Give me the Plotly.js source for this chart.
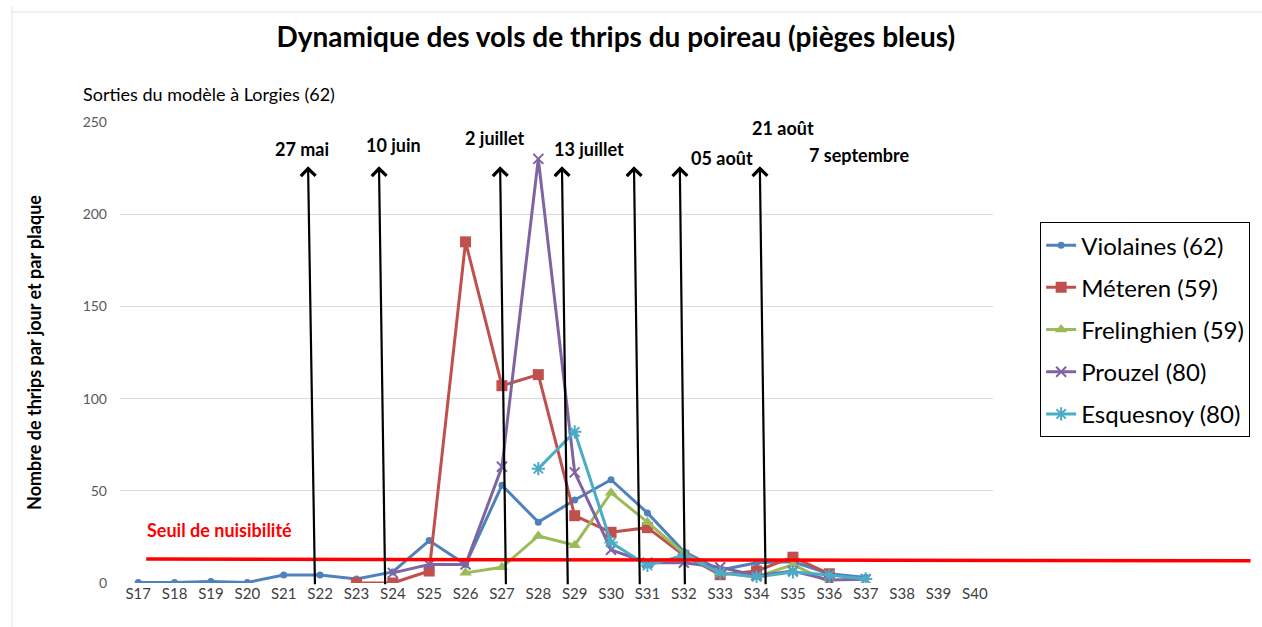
<!DOCTYPE html>
<html>
<head>
<meta charset="utf-8">
<script src="https://cdn.plot.ly/plotly-3.0.1.min.js"></script>
<style>html,body{margin:0;padding:0;background:#fff;}#chart{width:1262px;height:627px;}</style>
</head>
<body>
<div id="chart"></div>
<script>
// ---- data ----
const weeks = ["S17","S18","S19","S20","S21","S22","S23","S24","S25","S26","S27","S28","S29","S30","S31","S32","S33","S34","S35","S36","S37","S38","S39","S40"];
const violaines   = [0.3,0.3,0.8,0.3,4.3,4.3,2.2,6,23,10,53,33,45,56,38,17,7,11,11.5,5,3,null,null,null];
const meteren     = [null,null,null,null,null,null,0,0,6.5,185,107,113,36.5,27.5,30,15,4.5,6.5,14,5,null,null,null,null];
const frelinghien = [null,null,null,null,null,null,null,null,null,5.5,8.5,25.5,20.5,49,33,16,5.5,3.3,10,0.5,null,null,null,null];
const prouzel     = [null,null,null,null,null,null,null,5.5,10,10,63,230,60,18,11,11,8.5,4,6.5,1.6,2,null,null,null];
const esquesnoy   = [null,null,null,null,null,null,null,null,null,null,null,62,82,22,9.5,15,5.5,3.3,6,4.3,2.2,null,null,null];
const seriesNames = ["Violaines (62)","Méteren (59)","Frelinghien (59)","Prouzel (80)","Esquesnoy (80)"];
const threshold = 13;
const thresholdLabel = "Seuil de nuisibilité";
const dateLabels = ["27 mai","10 juin","2 juillet","13 juillet","27 juillet","05 août","21 août","7 septembre"];

// ---- styles / positions ----
const FONT = "Lato, 'Open Sans', sans-serif";
const colors = ["#4F81BD","#C0504D","#9BBB59","#8064A2","#4BACC6"];
const symbols = ["circle","square","triangle-up","x-thin-open","asterisk-open"];
const msizes = [7,11,11,10,11];
const allSeries = [violaines, meteren, frelinghien, prouzel, esquesnoy];

const traces = allSeries.map((vals, i) => ({
  type: "scatter", mode: "lines+markers", name: seriesNames[i],
  x: weeks, y: vals, connectgaps: false,
  legendgroup: "g" + i,
  line: {color: colors[i], width: 3},
  marker: {symbol: symbols[i], size: msizes[i], color: colors[i],
           line: {color: colors[i], width: (i >= 3 ? 2 : 0)}}
}));

// arrow geometry (category-index units for x, data units for y)
const arrowTopX = [4.67, 6.62, 9.95, 11.65, 13.63, 14.89, 17.09];
const arrowBotX = [4.86, 6.79, 10.11, 11.81, 13.79, 15.03, 17.25];
const labelX = [4.51, 7.01, 9.81, 12.38, 14.38, 16.05, 17.73, 19.82];
const labelY = [235.5, 237.3, 241.3, 235.5, 250.8, 230.3, 246.7, 232.2];

const annotations = [];
arrowTopX.forEach((xt, i) => {
  annotations.push({
    x: xt, y: 226, xref: "x", yref: "y",
    ax: arrowBotX[i], ay: -1.5, axref: "x", ayref: "y",
    showarrow: true, arrowhead: 4, arrowsize: 1.3, arrowwidth: 2.2, arrowcolor: "#000",
    text: ""
  });
});
dateLabels.forEach((t, i) => {
  annotations.push({
    x: labelX[i], y: labelY[i], xref: "x", yref: "y", showarrow: false,
    text: "<b>" + t + "</b>", font: {family: FONT, size: 18, color: "#000"}
  });
});
annotations.push({
  xref: "paper", yref: "y", x: 0.029, y: 28.5, xanchor: "left", showarrow: false,
  text: "<b>" + thresholdLabel + "</b>", font: {family: FONT, size: 18, color: "#FF0000"}
});
annotations.push({
  xref: "paper", yref: "paper", x: -0.045, y: 1.09, xanchor: "left", showarrow: false,
  text: "Sorties du modèle à Lorgies (62)", font: {family: FONT, size: 18, color: "#000"}
});

const shapes = [
  {type: "line", xref: "paper", yref: "y", x0: 0.03, x1: 1.295, y0: threshold, y1: threshold - 1,
   line: {color: "#FF0000", width: 3.5}},
  {type: "line", xref: "paper", yref: "paper", x0: -0.124, x1: 1.31, y0: 1.2386, y1: 1.2386,
   line: {color: "#e3e3e3", width: 1}},
  {type: "line", xref: "paper", yref: "paper", x0: -0.1237, x1: -0.1237, y0: -0.1, y1: 1.25,
   line: {color: "#e3e3e3", width: 1}}
];

const layout = {
  width: 1262, height: 627,
  margin: {l: 120, r: 269, t: 122, b: 44},
  paper_bgcolor: "#fff", plot_bgcolor: "#fff",
  font: {family: FONT, color: "#595959"},
  title: {text: "<b>Dynamique des vols de thrips du poireau (pièges bleus)</b>",
          font: {family: FONT, size: 28, color: "#000"},
          x: 0.488, xref: "container", y: 0.94, yref: "container", yanchor: "middle"},
  xaxis: {type: "category", range: [-0.5, 23.5], showgrid: false, zeroline: false,
          showline: false, ticks: "", tickfont: {family: FONT, size: 15, color: "#404040"},
          fixedrange: true},
  yaxis: {range: [0, 250], dtick: 50, showgrid: true, gridcolor: "#d9d9d9", gridwidth: 1,
          zeroline: false, showline: false, ticks: "", ticklabelstandoff: 12,
          tickfont: {family: FONT, size: 14, color: "#595959"},
          title: {text: "<b>Nombre de thrips par jour et par plaque</b>", standoff: 36,
                  font: {family: FONT, size: 18, color: "#000"}}},
  legend: {x: 1.054, y: 0.783, xanchor: "left", yanchor: "top",
           bordercolor: "#000", borderwidth: 1, bgcolor: "#fff",
           font: {family: FONT, size: 24, color: "#000"}, tracegroupgap: 8, itemwidth: 30},
  showlegend: true,
  annotations: annotations,
  shapes: shapes
};

Plotly.newPlot("chart", traces, layout, {displayModeBar: false, staticPlot: true});
</script>
</body>
</html>
